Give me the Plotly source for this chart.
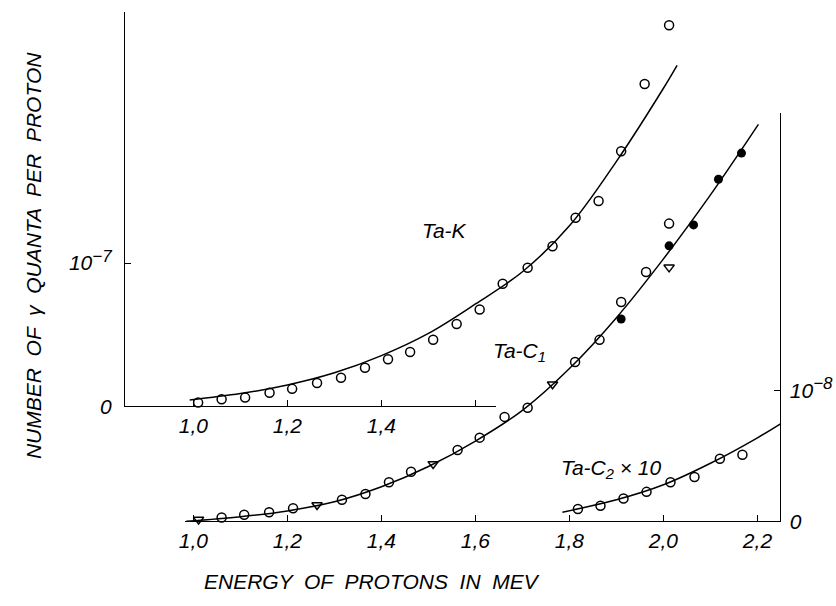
import plotly.graph_objects as go

# ---------------- data ----------------
# Ta-K  (values in units of 1e-7 gamma quanta per proton)
tak_E = [1.01, 1.06, 1.11, 1.162, 1.21, 1.263, 1.314, 1.365, 1.414, 1.461, 1.51,
         1.56, 1.609, 1.658, 1.711, 1.764, 1.813, 1.862, 1.91, 1.96, 2.012]
tak_v = [0.027, 0.05, 0.062, 0.096, 0.123, 0.164, 0.2, 0.27, 0.33, 0.38, 0.466,
         0.575, 0.676, 0.856, 0.968, 1.118, 1.317, 1.434, 1.78, 2.25, 2.66]
tak_fit_E = [0.992, 1.1, 1.2, 1.3, 1.4, 1.5, 1.6, 1.7, 1.8, 1.9, 2.0, 2.029]
tak_fit_v = [0.046, 0.09, 0.15, 0.235, 0.355, 0.51, 0.715, 0.94, 1.26, 1.71, 2.22, 2.38]

# Ta-C1 (units of 1e-8)
c1_open_E = [1.06, 1.108, 1.161, 1.212, 1.316, 1.366, 1.416, 1.463, 1.562, 1.609,
             1.662, 1.711, 1.812, 1.864, 1.91, 1.963, 2.012]
c1_open_v = [0.03, 0.05, 0.07, 0.10, 0.165, 0.21, 0.30, 0.38, 0.547, 0.641,
             0.80, 0.87, 1.22, 1.39, 1.68, 1.91, 2.28]
c1_tri_E = [1.011, 1.263, 1.51, 1.764, 2.012]
c1_tri_v = [0.015, 0.125, 0.44, 1.05, 1.945]
c1_full_E = [1.91, 2.012, 2.064, 2.117, 2.166]
c1_full_v = [1.55, 2.11, 2.27, 2.62, 2.82]
c1_fit_E = [0.985, 1.1, 1.2, 1.3, 1.4, 1.5, 1.6, 1.7, 1.8, 1.9, 2.0, 2.1, 2.202]
c1_fit_v = [0.0, 0.035, 0.08, 0.15, 0.265, 0.42, 0.615, 0.85, 1.17, 1.56, 2.01, 2.5, 3.04]

# Ta-C2 x 10 (units of 1e-8)
c2_E = [1.818, 1.866, 1.915, 1.964, 2.015, 2.066, 2.12, 2.168]
c2_v = [0.095, 0.12, 0.175, 0.226, 0.30, 0.34, 0.48, 0.51]
c2_fit_E = [1.785, 1.9, 2.0, 2.1, 2.2, 2.249]
c2_fit_v = [0.07, 0.165, 0.28, 0.445, 0.64, 0.747]

top_ticks = [1.0, 1.2, 1.4, 1.6]
top_ticktext = ["1,0", "1,2", "1,4", ""]
bot_ticks = [1.0, 1.2, 1.4, 1.6, 1.8, 2.0, 2.2]
bot_ticktext = ["1,0", "1,2", "1,4", "1,6", "1,8", "2,0", "2,2"]

# ---------------- figure ----------------
W, H = 836, 606
FONT = "Liberation Sans"
tickfont = dict(family=FONT, size=21, color="black", style="italic")

def px(x):
    return x / W

def py(y):
    return 1 - y / H

fig = go.Figure()

line = dict(color="black", width=1.5)
oc = dict(symbol="circle-open", size=9, color="black", line=dict(width=1.5, color="black"))

# empty trace so that the visible top-left subplot (x, y) is created
fig.add_trace(go.Scatter(x=[], y=[], xaxis="x", yaxis="y", showlegend=False))

# Ta-K on (x3, y3) : same scale as (x, y) but wider clip area
fig.add_trace(go.Scatter(x=tak_fit_E, y=tak_fit_v, mode="lines", line=dict(shape="spline", **line),
                         xaxis="x3", yaxis="y3", showlegend=False, hoverinfo="skip"))
fig.add_trace(go.Scatter(x=tak_E, y=tak_v, mode="markers", marker=oc, cliponaxis=False,
                         xaxis="x3", yaxis="y3", showlegend=False))

# Ta-C1 and Ta-C2 on (x2, y2)
for E, v in [(c1_fit_E, c1_fit_v), (c2_fit_E, c2_fit_v)]:
    fig.add_trace(go.Scatter(x=E, y=v, mode="lines", line=dict(shape="spline", **line),
                             xaxis="x2", yaxis="y2", showlegend=False, hoverinfo="skip",
                             cliponaxis=False))
fig.add_trace(go.Scatter(x=c1_open_E, y=c1_open_v, mode="markers", marker=oc, cliponaxis=False,
                         xaxis="x2", yaxis="y2", showlegend=False))
fig.add_trace(go.Scatter(x=c1_tri_E, y=c1_tri_v, mode="markers", cliponaxis=False,
                         marker=dict(symbol="triangle-down-open", size=9, color="black",
                                     line=dict(width=1.5, color="black")),
                         xaxis="x2", yaxis="y2", showlegend=False))
fig.add_trace(go.Scatter(x=c1_full_E, y=c1_full_v, mode="markers", cliponaxis=False,
                         marker=dict(symbol="circle", size=9, color="black"),
                         xaxis="x2", yaxis="y2", showlegend=False))
fig.add_trace(go.Scatter(x=c2_E, y=c2_v, mode="markers", marker=oc, cliponaxis=False,
                         xaxis="x2", yaxis="y2", showlegend=False))

ax_common = dict(showgrid=False, zeroline=False, showline=True, linecolor="black", linewidth=1.3,
                 ticks="inside", ticklen=6, tickwidth=1.2, tickcolor="black", tickfont=tickfont,
                 fixedrange=True)

# pixel geometry of the axes
top_x0, top_x1 = 119, 493
top_y0, top_y1 = 414, 12
bot_x0, bot_x1 = 180, 780
bot_y0, bot_y1 = 531, 115
pxu = 474.0            # pixels per 1 MeV

def e_of(xpix):
    return 1.0 + (xpix - 188) / pxu

top_yrange = [0, (top_y0 - top_y1) / 146.0]
sup = "<sup><span style='font-size:17px'>−{}</span></sup>"

fig.update_layout(
    width=W, height=H,
    margin=dict(l=0, r=0, t=0, b=0),
    paper_bgcolor="white", plot_bgcolor="rgba(0,0,0,0)",
    xaxis=dict(domain=[px(top_x0), px(top_x1)], range=[e_of(top_x0), e_of(top_x1)],
               anchor="y", tickmode="array", tickvals=top_ticks, ticktext=top_ticktext,
               **ax_common),
    yaxis=dict(domain=[py(top_y0), py(top_y1)], range=top_yrange,
               anchor="x", tickmode="array", tickvals=[0, 1],
               ticktext=["0", "10" + sup.format(7)],
               ticklabelstandoff=8, **ax_common),
    xaxis3=dict(domain=[px(top_x0), 1.0], range=[e_of(top_x0), e_of(W)], anchor="y3",
                visible=False, fixedrange=True),
    yaxis3=dict(domain=[py(top_y0), py(top_y1)], range=top_yrange, anchor="x3",
                visible=False, fixedrange=True),
    xaxis2=dict(domain=[px(bot_x0), px(bot_x1)], range=[e_of(bot_x0), e_of(bot_x1)],
                anchor="y2", tickmode="array", tickvals=bot_ticks, ticktext=bot_ticktext,
                **ax_common),
    yaxis2=dict(domain=[py(bot_y0), py(bot_y1)], range=[0, (bot_y0 - bot_y1) / 133.0],
                anchor="x2", side="right", tickmode="array", tickvals=[0, 1],
                ticktext=["0", "10" + sup.format(8)], ticklabelstandoff=4, **ax_common),
)

ann_font = dict(family=FONT, size=21, color="black", style="italic")
annotations = [
    dict(text="Ta-K", x=px(441), y=py(235)),
    dict(text="Ta-C<sub>1</sub>", x=px(517), y=py(358)),
    dict(text="Ta-C<sub>2</sub> × 10", x=px(610), y=py(478)),
    dict(text="ENERGY  OF  PROTONS  IN  MEV", x=px(368), y=py(592)),
    dict(text="NUMBER  OF  γ  QUANTA  PER  PROTON", x=px(27), y=py(260), textangle=-90),
]
for a in annotations:
    fig.add_annotation(xref="paper", yref="paper", showarrow=False, font=ann_font,
                       xanchor="center", yanchor="middle", **a)

fig.write_html("out.html")
